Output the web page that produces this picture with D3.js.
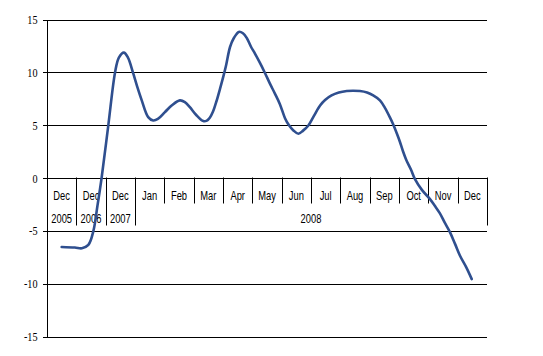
<!DOCTYPE html>
<html>
<head>
<meta charset="utf-8">
<script src="https://cdn.jsdelivr.net/npm/d3@7/dist/d3.min.js"></script>
<style>
  html, body { margin: 0; padding: 0; background: #fff; }
  svg { display: block; }
  .ylab { font-family: "Liberation Serif", "Times New Roman", serif; font-size: 12px; fill: #000; }
  .xlab { font-family: "Liberation Sans", Arial, sans-serif; font-size: 12px; fill: #000; }
</style>
</head>
<body>
<svg id="chart" width="543" height="356"></svg>
<script>
// ---- data ----
const categories = ["Dec", "Dec", "Dec", "Jan", "Feb", "Mar", "Apr", "May", "Jun", "Jul", "Aug", "Sep", "Oct", "Nov", "Dec"];
const years = ["2005", "2006", "2007", "2008"];
const yearSpans = [1, 1, 1, 12];
const yTicks = [-15, -10, -5, 0, 5, 10, 15];
// position along the category axis (0 = first category centre) and value
const positions = [0.00, 0.45, 0.69, 0.91, 1.08, 1.22, 1.36, 1.59, 1.82, 1.95, 2.12, 2.26, 2.44, 2.57, 2.73, 2.95, 3.12, 3.28, 3.52, 3.76, 4.03, 4.20, 4.37, 4.58, 4.83, 4.95, 5.05, 5.16, 5.28, 5.40, 5.51, 5.60, 5.74, 5.87, 6.04, 6.18, 6.31, 6.45, 6.59, 6.76, 6.93, 7.10, 7.27, 7.44, 7.61, 7.75, 7.90, 8.07, 8.23, 8.41, 8.60, 8.81, 8.98, 9.20, 9.45, 9.72, 9.93, 10.17, 10.41, 10.62, 10.85, 11.02, 11.19, 11.30, 11.43, 11.53, 11.63, 11.76, 11.91, 12.04, 12.28, 12.55, 12.72, 12.89, 13.06, 13.24, 13.41, 13.58, 13.79, 13.98];
const values = [-6.50, -6.55, -6.62, -6.30, -5.00, -2.60, 0.00, 5.00, 10.00, 11.40, 11.87, 11.40, 9.90, 8.70, 7.36, 5.78, 5.46, 5.60, 6.25, 6.90, 7.36, 7.20, 6.72, 6.00, 5.40, 5.45, 5.72, 6.30, 7.30, 8.47, 9.60, 10.60, 12.40, 13.25, 13.83, 13.70, 13.25, 12.45, 11.78, 10.90, 9.95, 8.94, 8.00, 7.00, 5.70, 5.00, 4.52, 4.20, 4.50, 4.99, 5.90, 6.88, 7.40, 7.83, 8.10, 8.24, 8.27, 8.24, 8.10, 7.83, 7.36, 6.65, 5.75, 5.10, 4.20, 3.45, 2.60, 1.65, 0.80, -0.06, -1.10, -1.95, -2.60, -3.30, -4.20, -5.11, -6.20, -7.32, -8.40, -9.53];

// ---- layout ----
const plotLeft = 47, plotRight = 487, plotTop = 19.5, plotBottom = 337;
const squeeze = 0.78;
const svg = d3.select("#chart");

const x = d3.scaleLinear().domain([0, categories.length]).range([plotLeft, plotRight]);
const y = d3.scaleLinear().domain([-15, 15]).range([plotBottom, plotTop]);

// horizontal grid lines
svg.append("g").selectAll("line").data(yTicks).join("line")
  .attr("x1", plotLeft - 4).attr("x2", plotRight)
  .attr("y1", d => Math.round(y(d)) + 0.5).attr("y2", d => Math.round(y(d)) + 0.5)
  .attr("stroke", "#000").attr("stroke-width", 1);

// y axis line
svg.append("line")
  .attr("x1", plotLeft + 0.5).attr("x2", plotLeft + 0.5)
  .attr("y1", Math.round(y(15)) + 0.5).attr("y2", Math.round(y(-15)) + 0.5)
  .attr("stroke", "#000");

// y labels
svg.append("g").selectAll("text").data(yTicks).join("text")
  .attr("class", "ylab")
  .attr("transform", d => `translate(${plotLeft - 9.5},${y(d)}) scale(0.85,1)`)
  .attr("dy", "0.36em")
  .attr("text-anchor", "end")
  .text(d => d);

// category dividers
const y0 = Math.round(y(0)) + 0.5;
const yearBounds = [0];
yearSpans.forEach((s, i) => yearBounds.push(yearBounds[i] + s));
const divs = d3.range(categories.length + 1);
svg.append("g").selectAll("line").data(divs).join("line")
  .attr("x1", d => Math.round(x(d)) + 0.5).attr("x2", d => Math.round(x(d)) + 0.5)
  .attr("y1", y0 - 1)
  .attr("y2", d => yearBounds.includes(d) ? y0 + 47 : y0 + 25)
  .attr("stroke", "#000");

// month labels
svg.append("g").selectAll("text").data(categories).join("text")
  .attr("class", "xlab")
  .attr("transform", (d, i) => `translate(${x(i + 0.5)},${y0 + 21}) scale(${squeeze},1)`)
  .attr("text-anchor", "middle")
  .text(d => d);

// year labels
svg.append("g").selectAll("text").data(years).join("text")
  .attr("class", "xlab")
  .attr("transform", (d, i) => `translate(${x((yearBounds[i] + yearBounds[i + 1]) / 2)},${y0 + 44.5}) scale(${squeeze},1)`)
  .attr("text-anchor", "middle")
  .text(d => d);

// series line
const pts = positions.map((p, i) => [p, values[i]]);
const line = d3.line()
  .x(d => x(d[0] + 0.5))
  .y(d => y(d[1]))
  .curve(d3.curveCatmullRom.alpha(0.5));
svg.append("path")
  .datum(pts)
  .attr("d", line)
  .attr("fill", "none")
  .attr("stroke", "#2f4f8f")
  .attr("stroke-width", 2.6)
  .attr("stroke-linejoin", "round")
  .attr("stroke-linecap", "round");
</script>
</body>
</html>
